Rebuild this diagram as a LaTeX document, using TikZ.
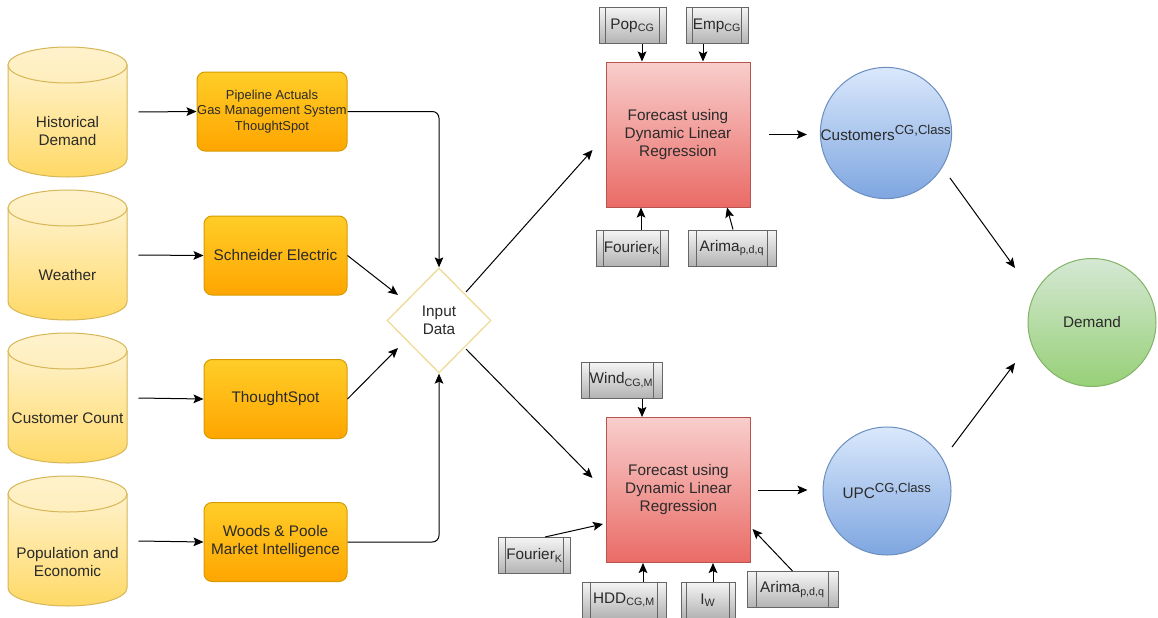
\documentclass[tikz,border=0pt]{standalone}
\usepackage{fontspec}
\setmainfont{Liberation Sans}
\usetikzlibrary{shapes.geometric,arrows.meta,calc}
\definecolor{cylA}{HTML}{FFF2CC}
\definecolor{cylB}{HTML}{FFD966}
\definecolor{cylL}{HTML}{D6B656}
\definecolor{orA}{HTML}{FFCD28}
\definecolor{orB}{HTML}{FFA500}
\definecolor{orL}{HTML}{D79B00}
\definecolor{pkA}{HTML}{F8CECC}
\definecolor{pkB}{HTML}{EA6B66}
\definecolor{pkL}{HTML}{B85450}
\definecolor{blA}{HTML}{DAE8FC}
\definecolor{blB}{HTML}{7EA6E0}
\definecolor{blL}{HTML}{6C8EBF}
\definecolor{grA}{HTML}{D5E8D4}
\definecolor{grB}{HTML}{97D077}
\definecolor{grL}{HTML}{82B366}
\definecolor{gyA}{HTML}{F5F5F5}
\definecolor{gyB}{HTML}{B3B3B3}
\definecolor{gyL}{HTML}{666666}
\definecolor{txtc}{HTML}{2A2A2A}
\definecolor{diaL}{HTML}{EEDC9A}
\tikzset{
  txt/.style={font=\fontsize{11.5}{13.5}\selectfont, text=txtc, align=center, inner sep=0pt},
  cylbody/.style={draw=cylL, top color=cylA, bottom color=cylB},
  cyltop/.style={draw=cylL, top color=cylA, bottom color=cylA!85!cylB},
  cylnode/.style={rectangle, minimum width=89.25pt, minimum height=97.5pt, inner sep=0pt},
  obox/.style={txt, draw=orL, top color=orA, bottom color=orB, rounded corners=6pt, minimum height=59.25pt, minimum width=107.25pt},
  dlrbox/.style={txt, draw=pkL, top color=pkA, bottom color=pkB, minimum width=108pt, minimum height=108.75pt},
  bcirc/.style={txt, circle, draw=blL, top color=blA, bottom color=blB, minimum size=96pt},
  gcirc/.style={txt, circle, draw=grL, top color=grA, bottom color=grB, minimum size=96pt},
  gbox/.style={txt, draw=gyL, top color=gyA, bottom color=gyB, minimum height=27pt,
    path picture={
      \draw[gyL] ($(path picture bounding box.north west)!0.1!(path picture bounding box.north east)$) -- ($(path picture bounding box.south west)!0.1!(path picture bounding box.south east)$);
      \draw[gyL] ($(path picture bounding box.north east)!0.1!(path picture bounding box.north west)$) -- ($(path picture bounding box.south east)!0.1!(path picture bounding box.south west)$);
    }},
  arr/.style={-{Stealth[length=7.5pt,width=6.5pt,inset=1.5pt]}, black},
}
\newcommand\sub[1]{\textsubscript{#1}}
\newcommand\mycyl[6]{%
  \path[cylbody] ({#2-59.5},{-#3-18}) -- ({#2-59.5},{-#4+18}) arc[start angle=180,end angle=360,x radius=59.5,y radius=18] -- ({#2+59.5},{-#3-18}) -- cycle;
  \path[cyltop] (#2,{-#3-18}) ellipse[x radius=59.5,y radius=18];
  \node[cylnode] (#1) at (#2,{-(#3+#4)/2}) {};
  \node[txt] (#1-t) at (#2,-#5) {#6};
}
\begin{document}
\begin{tikzpicture}[x=0.75pt,y=0.75pt,line width=0.75pt]
\useasboundingbox (0,0) rectangle (1158,-618);
% cylinders
\mycyl{c1}{67.5}{47}{177}{131}{Historical\\Demand}
\mycyl{c2}{67.5}{190}{320}{275}{Weather}
\mycyl{c3}{67.5}{333}{463}{418}{Customer Count}
\mycyl{c4}{67.5}{476}{606}{562}{Population and\\Economic}
% orange boxes
\node[obox, minimum width=112.5pt, font=\fontsize{9.7}{11.5}\selectfont] (b1) at (272,-111.5) {Pipeline Actuals\\Gas Management System\\ThoughtSpot};
\node[obox] (b2) at (275.5,-255.5) {Schneider Electric};
\node[obox] (b3) at (275.5,-399) {ThoughtSpot};
\node[obox] (b4) at (275.5,-542) {Woods \& Poole\\Market Intelligence};
% diamond
\node[txt, diamond, draw=diaL, fill=white, line width=1pt, minimum width=78pt, minimum height=78.75pt] (dia) at (439,-320.5) {Input\\Data};
% regression boxes
\node[dlrbox] (dlr1) at (678,-134.5) {Forecast using\\Dynamic Linear\\Regression};
\node[dlrbox] (dlr2) at (678.5,-490) {Forecast using\\Dynamic Linear\\Regression};
% circles
\node[bcirc] (cust) at (886,-133) {Customers\textsuperscript{\fontsize{9.8}{10}\selectfont CG,Class}};
\node[bcirc] (upc) at (887,-491) {UPC\textsuperscript{\fontsize{9.8}{10}\selectfont CG,Class}};
\node[gcirc] (dem) at (1092,-322.5) {Demand};
% grey inputs
\node[gbox, minimum width=50.25pt] (pop) at (632.5,-25.5) {Pop\sub{CG}};
\node[gbox, minimum width=46.5pt] (emp) at (717,-25.5) {Emp\sub{CG}};
\node[gbox, minimum width=54pt] (four1) at (632,-248) {Fourier\sub{K}};
\node[gbox, minimum width=66pt] (arima1) at (732,-248) {Arima\sub{p,d,q}};
\node[gbox, minimum width=60.75pt] (wind) at (621.5,-380) {Wind\sub{CG,M}};
\node[gbox, minimum width=54pt] (four2) at (534.5,-555.5) {Fourier\sub{K}};
\node[gbox, minimum width=63pt] (hdd) at (624,-600) {HDD\sub{CG,M}};
\node[gbox, minimum width=40.5pt] (iw) at (708,-600) {I\sub{W}};
\node[gbox, minimum width=68.25pt] (arima2) at (792.5,-589.5) {Arima\sub{p,d,q}};
% arrows cylinders -> boxes
\foreach \i in {1,2,3,4}{
  \draw[arr] ([xshift=8.25pt]c\i.east) -- (b\i.west);
}
% boxes -> diamond
\draw[arr, rounded corners=5pt] (b1.east) -| (dia.north);
\draw[arr, rounded corners=5pt] (b4.east) -| (dia.south);
\draw[arr] (b2.east) -- ($(dia.center)+(-41,25.5)$);
\draw[arr] (b3.east) -- ($(dia.center)+(-41,-27.5)$);
% diamond -> regressions
\draw[arr] ($(dia.center)+(27,28.5)$) -- ($(dlr1.west)+(-13,-15.5)$);
\draw[arr] ($(dia.center)+(27,-28.5)$) -- ($(dlr2.west)+(-13.5,12)$);
% grey inputs -> regressions
\draw[arr] ([xshift=7.125pt]pop.south) -- ([xshift=7.125pt]pop.south |- dlr1.north);
\draw[arr] ([xshift=-10.5pt]emp.south) -- ([xshift=-10.5pt]emp.south |- dlr1.north);
\draw[arr] ([xshift=6.75pt]four1.north) -- ([xshift=6.75pt]four1.north |- dlr1.south);
\draw[arr] ([xshift=0.75pt]arima1.north) -- ([xshift=-3.75pt]arima1.north |- dlr1.south);
\draw[arr] ([xshift=15.4pt]wind.south) -- ([xshift=15.4pt]wind.south |- dlr2.north);
\draw[arr] ([xshift=14.25pt]hdd.north) -- ([xshift=14.25pt]hdd.north |- dlr2.south);
\draw[arr] ([xshift=3.75pt]iw.north) -- ([xshift=3.75pt]iw.north |- dlr2.south);
\draw[arr] ([xshift=7.9pt]four2.north) -- ($(dlr2.south west)+(-3,39)$);
\draw[arr] (arima2.north) -- ($(dlr2.south east)+(1.5,34)$);
% regressions -> circles
\draw[arr] ([xshift=13.5pt]dlr1.east) -- ([xshift=-9.75pt]cust.west |- dlr1.east);
\draw[arr] ([xshift=5.25pt]dlr2.east) -- ([xshift=-11.25pt]upc.west |- dlr2.east);
% circles -> demand
\draw[arr] ($(cust.center)+(64,-45)$) -- ($(dem.center)+(-77,54.5)$);
\draw[arr] ($(upc.center)+(65,44)$) -- ($(dem.center)+(-77,-40.5)$);
\end{tikzpicture}
\end{document}
